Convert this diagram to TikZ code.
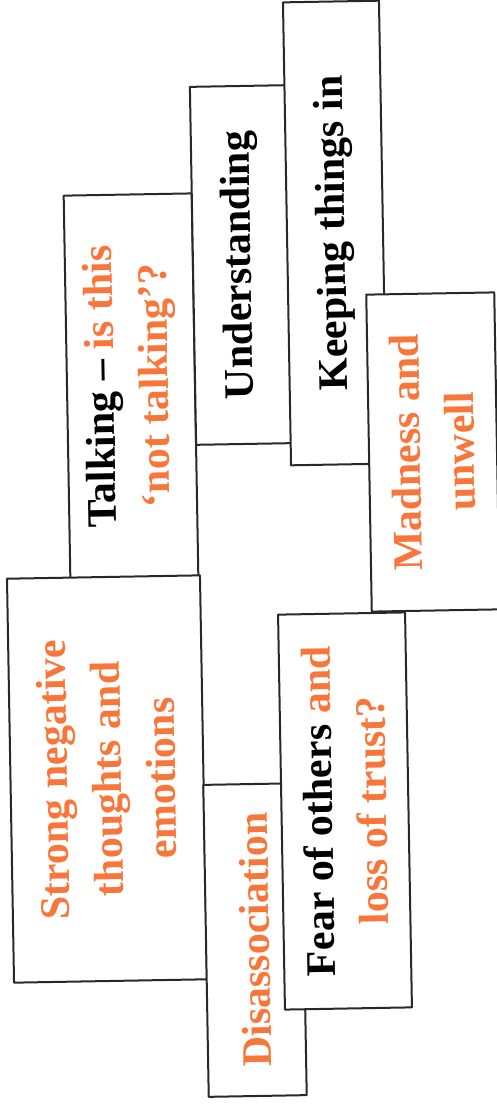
\documentclass[tikz,border=0pt]{standalone}
\usepackage{fontspec}
\setmainfont{Liberation Serif}

\begin{document}
\begin{tikzpicture}[x=1pt,y=-1pt,line join=round,line cap=round]

  \definecolor{cardorange}{RGB}{248,118,58}
  \definecolor{cardline}{RGB}{40,40,40}
  \tikzset{card/.style={draw=cardline,line width=2pt,fill=white,rotate=91,
      align=center,inner sep=0pt,font=\fontsize{42}{54}\selectfont\bfseries}}

  \useasboundingbox[fill=white] (0,0) rectangle (497,1119);

  % ---- left column ----
  \node[card,minimum width=383,minimum height=128] (talking) at (131,386)
    {Talking -- \textcolor{cardorange}{is this}\\\textcolor{cardorange}{‘not talking’?}};
  \node[card,minimum width=404,minimum height=193] (strong) at (107,779)
    {\textcolor{cardorange}{Strong negative}\\\textcolor{cardorange}{thoughts and}\\\textcolor{cardorange}{emotions}};

  % ---- top row ----
  \node[card,minimum width=358,minimum height=96] (understanding) at (241,265) {Understanding};
  \node[card,minimum width=463,minimum height=96] (keeping) at (335,233) {Keeping things in};
  \node[card,minimum width=317,minimum height=128] (madness) at (433,452)
    {\textcolor{cardorange}{Madness and}\\\textcolor{cardorange}{unwell}};

  % ---- bottom row ----
  \node[card,minimum width=312,minimum height=98] (disassociation) at (255,940)
    {\textcolor{cardorange}{Disassociation}};
  \node[card,minimum width=395,minimum height=127] (fear) at (345,811)
    {Fear of others \textcolor{cardorange}{and}\\\textcolor{cardorange}{loss of trust?}};

\end{tikzpicture}
\end{document}
